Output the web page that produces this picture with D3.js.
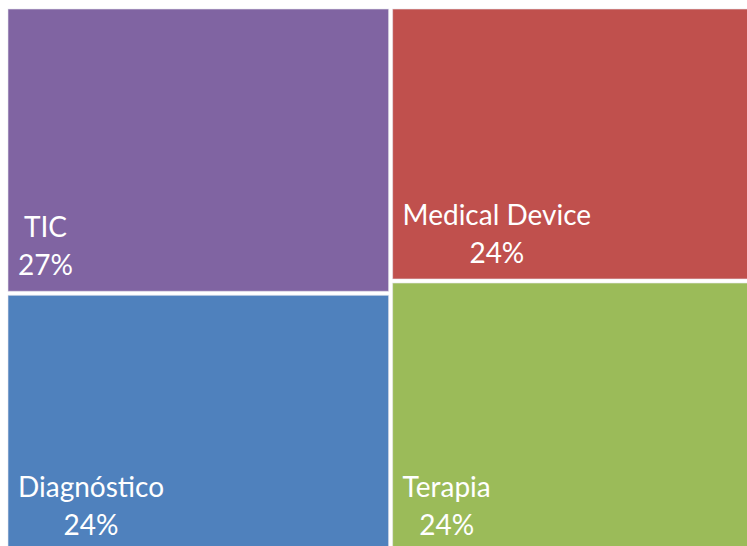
<!DOCTYPE html>
<html>
<head>
<meta charset="utf-8">
<script src="https://cdn.jsdelivr.net/npm/d3@7"></script>
<style>
  html, body { margin: 0; padding: 0; background: #fff; overflow: hidden; }
  svg { display: block; }
</style>
</head>
<body>
<div id="chart"></div>
<script>
// treemap data, two columns of two cells each
const columns = ['left', 'right'];
const categories = ['TIC', 'Diagnóstico', 'Medical Device', 'Terapia'];
const groupOf = ['left', 'left', 'right', 'right'];
const values = [26.8, 24.5, 24.3, 24.3];
const pctLabels = ['27%', '24%', '24%', '24%'];
const colors = ['#8064A2', '#4F81BD', '#C0504D', '#9BBB59'];

const width = 747, height = 546;
const margin = { top: 9, left: 8 };

const svg = d3.select('#chart').append('svg')
  .attr('width', width)
  .attr('height', height)
  .append('g')
  .attr('transform', 'translate(' + margin.left + ',' + margin.top + ')');

const tree = {
  name: 'root',
  children: columns.map(c => ({
    name: c,
    children: categories
      .map((name, i) => ({ name, value: values[i], pct: pctLabels[i], color: colors[i], group: groupOf[i] }))
      .filter(d => d.group === c)
  }))
};

const root = d3.hierarchy(tree).sum(d => d.value || 0);

// the chart runs a bit past the right and bottom of the window
d3.treemap()
  .tile(d3.treemapSliceDice)
  .size([745, 544])
  .paddingInner(4)(root);

const cells = svg.selectAll('g.cell')
  .data(root.leaves())
  .enter().append('g')
  .attr('class', 'cell');

cells.append('rect')
  .attr('x', d => d.x0)
  .attr('y', d => d.y0)
  .attr('width', d => d.x1 - d.x0)
  .attr('height', d => d.y1 - d.y0)
  .attr('fill', d => d.data.color)
  .attr('stroke', '#e8e8ee')
  .attr('stroke-opacity', 0.6)
  .attr('stroke-width', 1);

cells.each(function (d) {
  const g = d3.select(this);
  const base = Math.min(d.y1 - 16, 526);
  const t1 = g.append('text')
    .attr('y', base - 38)
    .text(d.data.name);
  const t2 = g.append('text')
    .attr('y', base)
    .text(d.data.pct);
  g.selectAll('text')
    .attr('fill', '#fff')
    .style('font-family', 'Lato, "Open Sans", sans-serif')
    .style('font-size', '28px')
    .attr('text-anchor', 'middle');
  const w = Math.max(t1.node().getComputedTextLength(), t2.node().getComputedTextLength());
  g.selectAll('text').attr('x', d.x0 + 10 + w / 2);
});
</script>
</body>
</html>
